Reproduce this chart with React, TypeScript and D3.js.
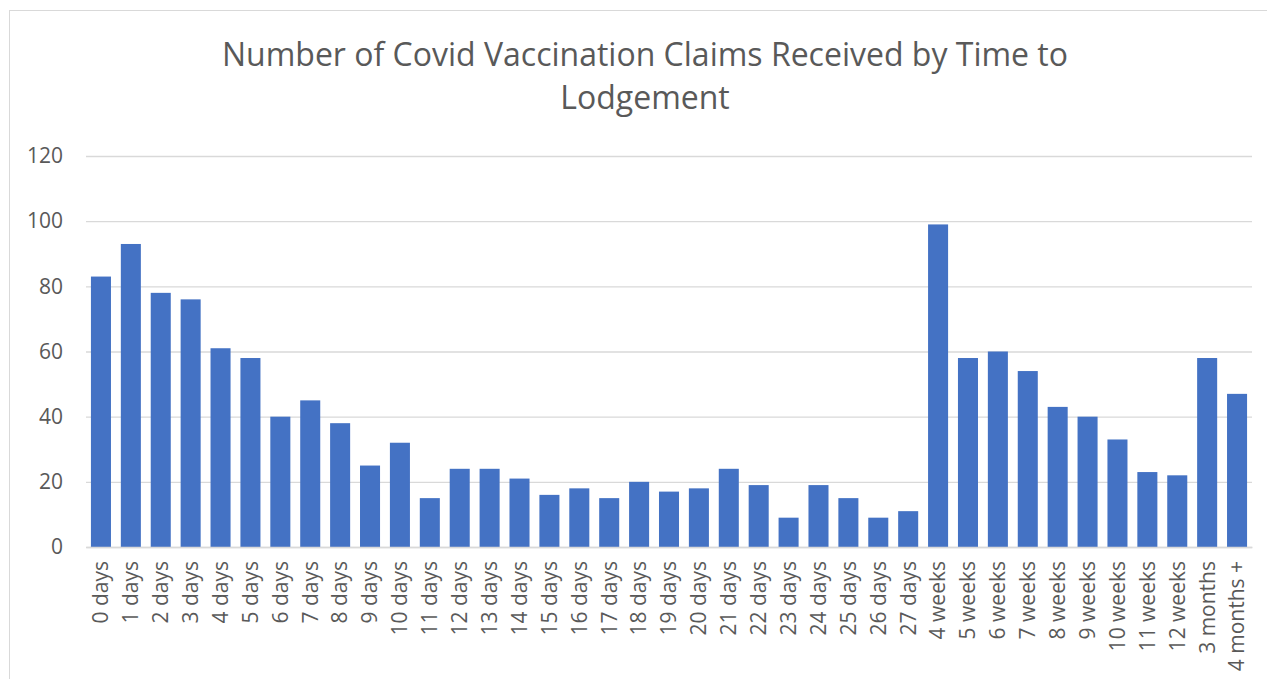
import React, { useEffect, useRef } from "react";
import * as d3 from "d3";

const categories = [
  "0 days", "1 days", "2 days", "3 days", "4 days", "5 days", "6 days", "7 days",
  "8 days", "9 days", "10 days", "11 days", "12 days", "13 days", "14 days",
  "15 days", "16 days", "17 days", "18 days", "19 days", "20 days", "21 days",
  "22 days", "23 days", "24 days", "25 days", "26 days", "27 days",
  "4 weeks", "5 weeks", "6 weeks", "7 weeks", "8 weeks", "9 weeks", "10 weeks",
  "11 weeks", "12 weeks", "3 months", "4 months +",
];
const claims = [
  83, 93, 78, 76, 61, 58, 40, 45, 38, 25, 32, 15, 24, 24, 21, 16, 18, 15, 20, 17,
  18, 24, 19, 9, 19, 15, 9, 11, 99, 58, 60, 54, 43, 40, 33, 23, 22, 58, 47,
];
const yTicks = [0, 20, 40, 60, 80, 100, 120];
const titleLines = ["Number of Covid Vaccination Claims Received by Time to", "Lodgement"];

const WIDTH = 1267;
const HEIGHT = 679;
const MARGIN = { LEFT: 86, RIGHT: 15, TOP: 156, BOTTOM: 132 };
const FONT = "'Open Sans', sans-serif";
const TEXT_COLOR = "#595959";

const App = () => {
  const svgRef = useRef<SVGSVGElement>(null);

  useEffect(() => {
    const svg = d3.select(svgRef.current);
    svg.selectAll("*").remove();

    const xScale = d3
      .scaleBand()
      .domain(categories)
      .range([MARGIN.LEFT, WIDTH - MARGIN.RIGHT])
      .paddingInner(0.33)
      .paddingOuter(0.165);
    const yScale = d3
      .scaleLinear()
      .domain([0, 120])
      .range([HEIGHT - MARGIN.BOTTOM, MARGIN.TOP]);

    // chart area border, runs off the right and bottom edges
    svg
      .append("rect")
      .attr("x", 9.5)
      .attr("y", 10.5)
      .attr("width", WIDTH + 20)
      .attr("height", HEIGHT + 20)
      .attr("fill", "white")
      .attr("stroke", "#d9d9d9");

    svg
      .append("text")
      .attr("text-anchor", "middle")
      .attr("font-family", FONT)
      .attr("font-size", 32)
      .attr("fill", TEXT_COLOR)
      .selectAll("tspan")
      .data(titleLines)
      .join("tspan")
      .attr("x", 645)
      .attr("y", (d, i) => 66 + i * 43)
      .text((d) => d);

    const yAxisGrid = d3
      .axisLeft(yScale)
      .tickValues(yTicks)
      .tickSize(-(WIDTH - MARGIN.LEFT - MARGIN.RIGHT))
      .tickPadding(23);

    svg
      .append("g")
      .attr("transform", `translate(${MARGIN.LEFT},0)`)
      .call(yAxisGrid)
      .call((g) => g.select(".domain").remove())
      .call((g) => g.selectAll("line").attr("stroke", "#d9d9d9").attr("stroke-width", 1.3))
      .call((g) =>
        g
          .selectAll("text")
          .attr("font-family", FONT)
          .attr("font-size", 21)
          .attr("fill", TEXT_COLOR)
      );

    svg
      .append("g")
      .selectAll("rect")
      .data(claims)
      .join("rect")
      .attr("x", (d, i) => xScale(categories[i]))
      .attr("y", (d) => yScale(d))
      .attr("width", xScale.bandwidth())
      .attr("height", (d) => yScale(0) - yScale(d))
      .attr("fill", "#4472c4");

    const xAxis = d3.axisBottom(xScale).tickSize(0).tickPadding(0);
    svg
      .append("g")
      .attr("transform", `translate(0,${yScale(0)})`)
      .call(xAxis)
      .call((g) => g.select(".domain").attr("stroke", "#d9d9d9").attr("stroke-width", 1.3))
      .call((g) =>
        g
          .selectAll("text")
          .attr("font-family", FONT)
          .attr("font-size", 21)
          .attr("fill", TEXT_COLOR)
          .attr("text-anchor", "end")
          .attr("dy", "0.35em")
          .attr("transform", "translate(0,14) rotate(-90)")
          .attr("y", 0)
          .attr("x", 0)
      );
  }, []);

  return (
    <svg
      ref={svgRef}
      width={WIDTH}
      height={HEIGHT}
      style={{ position: "absolute", left: 0, top: 0, background: "white" }}
    ></svg>
  );
};

export default App;
